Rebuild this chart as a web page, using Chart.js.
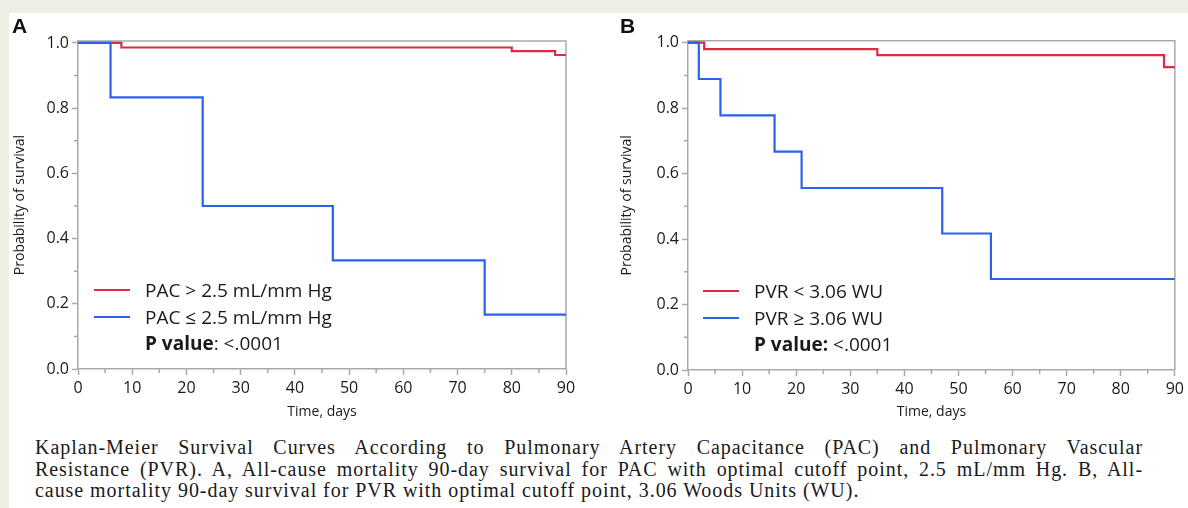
<!DOCTYPE html>
<html>
<head>
<meta charset="utf-8">
<script src="https://cdn.jsdelivr.net/npm/chart.js@4.4.1/dist/chart.umd.min.js"></script>
<style>
  body { margin: 0; background: #eeeee5; }
  #page { position: relative; width: 1188px; height: 508px; overflow: hidden; }
  #sheet { position: absolute; left: 9px; top: 13px; width: 1179px; height: 495px; background: #fff; }
  canvas { position: absolute; top: 0; }
  .letter { position: absolute; font: bold 21px "Liberation Sans", Arial, sans-serif; color: #111; }
  .legend { position: absolute; font: 19px "Open Sans", sans-serif; color: #1a1a1a; line-height: 26px; white-space: nowrap; }
  .legend .row { position: relative; height: 26.6px; }
  .legend .swatch { position: absolute; top: 12px; width: 36px; height: 2px; }
  .caption { position: absolute; left: 35px; width: 1108px; font: 20px "Liberation Serif", "Times New Roman", serif; letter-spacing: 0.95px; color: #1a1a1a; line-height: 21.5px; }
  .caption div { white-space: nowrap; }
  .caption .j { text-align: justify; text-align-last: justify; white-space: normal; }
</style>
</head>
<body>
<div id="page">
  <div id="sheet"></div>
  <canvas id="chartA" width="600" height="430" style="left:0;width:600px;height:430px"></canvas>
  <canvas id="chartB" width="588" height="430" style="left:600px;width:588px;height:430px"></canvas>
  <div class="letter" style="left:12px;top:14px">A</div>
  <div class="letter" style="left:620px;top:14px">B</div>

  <div class="legend" style="left:94px;top:277px">
    <div class="row"><span class="swatch" style="left:0;background:#dc2a40"></span><span style="position:absolute;left:51px">PAC &gt; 2.5 mL/mm Hg</span></div>
    <div class="row"><span class="swatch" style="left:0;background:#2a62ec"></span><span style="position:absolute;left:51px">PAC ≤ 2.5 mL/mm Hg</span></div>
    <div class="row"><span style="position:absolute;left:51px"><b>P value</b>: &lt;.0001</span></div>
  </div>
  <div class="legend" style="left:703px;top:278px">
    <div class="row"><span class="swatch" style="left:0;background:#dc2a40"></span><span style="position:absolute;left:51px">PVR &lt; 3.06 WU</span></div>
    <div class="row"><span class="swatch" style="left:0;background:#2a62ec"></span><span style="position:absolute;left:51px">PVR ≥ 3.06 WU</span></div>
    <div class="row"><span style="position:absolute;left:51px"><b>P value:</b> &lt;.0001</span></div>
  </div>

  <div class="caption" style="top:437px">
    <div class="j">Kaplan-Meier Survival Curves According to Pulmonary Artery Capacitance (PAC) and Pulmonary Vascular</div>
    <div class="j">Resistance (PVR). A, All-cause mortality 90-day survival for PAC with optimal cutoff point, 2.5 mL/mm Hg. B, All-</div>
    <div>cause mortality 90-day survival for PVR with optimal cutoff point, 3.06 Woods Units (WU).</div>
  </div>
</div>

<script>
// Panel A: PAC groups (day of event, survival after it)
const daysPacHigh = [0, 8, 80, 88, 90];
const survPacHigh = [1, 0.986, 0.975, 0.963, 0.963];
const daysPacLow = [0, 6, 23, 47, 75, 90];
const survPacLow = [1, 0.833, 0.5, 0.333, 0.167, 0.167];

// Panel B: PVR groups
const daysPvrLow = [0, 3, 35, 88, 90];
const survPvrLow = [1, 0.98, 0.962, 0.925, 0.925];
const daysPvrHigh = [0, 2, 6, 16, 21, 47, 56, 90];
const survPvrHigh = [1, 0.889, 0.778, 0.667, 0.556, 0.417, 0.278, 0.278];

const minorDays = [5, 15, 25, 35, 45, 55, 65, 75, 85];
const minorProb = [0.1, 0.3, 0.5, 0.7, 0.9];

const RED = '#dc2a40';
const BLUE = '#2a62ec';
const AXIS = '#a9a9a9';
const TEXT = '#1a1a1a';

function toPoints(xs, ys) {
    return xs.map((x, i) => ({ x: x, y: ys[i] }));
}

// frame on top/right plus the small minor ticks
const framePlugin = {
    id: 'frame',
    beforeDatasetsDraw(chart) {
        const ctx = chart.ctx;
        const a = chart.chartArea;
        const xs = chart.scales.x, ys = chart.scales.y;
        ctx.save();
        ctx.strokeStyle = AXIS;
        ctx.lineWidth = 1.5;
        ctx.beginPath();
        ctx.moveTo(a.left, a.top);
        ctx.lineTo(a.right, a.top);
        ctx.lineTo(a.right, a.bottom);
        minorDays.forEach(d => {
            const px = xs.getPixelForValue(d);
            ctx.moveTo(px, a.bottom);
            ctx.lineTo(px, a.bottom + 4);
        });
        minorProb.forEach(p => {
            const py = ys.getPixelForValue(p);
            ctx.moveTo(a.left - 4, py);
            ctx.lineTo(a.left, py);
        });
        ctx.stroke();
        ctx.restore();
    }
};

function makeChart(id, redPts, bluePts, cfg) {
    const ctx = document.getElementById(id).getContext('2d');
    return new Chart(ctx, {
        type: 'line',
        data: {
            datasets: [{
                data: bluePts,
                borderColor: BLUE,
                borderWidth: 2.2,
                stepped: 'before',
                pointRadius: 0,
                fill: false,
                order: 0
            }, {
                data: redPts,
                borderColor: RED,
                borderWidth: 2.2,
                stepped: 'before',
                pointRadius: 0,
                fill: false,
                order: 1
            }]
        },
        options: {
            responsive: false,
            animation: false,
            layout: { padding: { top: cfg.top, right: cfg.right, left: 0, bottom: 0 } },
            plugins: { legend: { display: false }, tooltip: { enabled: false } },
            scales: {
                x: {
                    type: 'linear',
                    min: 0,
                    max: 90,
                    ticks: { stepSize: 10, color: TEXT, font: { family: 'Open Sans', size: 16 }, padding: 4, maxRotation: 0 },
                    grid: { drawOnChartArea: false, tickLength: 6, tickColor: AXIS, tickWidth: 1.5 },
                    border: { color: AXIS, width: 1.5 },
                    title: { display: true, text: 'Time, days', color: TEXT, font: { family: 'Open Sans', size: 14 }, padding: { top: 0, bottom: 10 } },
                    afterFit(s) { s.height = cfg.xHeight; }
                },
                y: {
                    type: 'linear',
                    min: 0,
                    max: 1.006,
                    ticks: { stepSize: 0.2, includeBounds: false, color: TEXT, font: { family: 'Open Sans', size: 16 }, padding: 3,
                        callback: v => v.toFixed(1) },
                    grid: { drawOnChartArea: false, tickLength: 6, tickColor: AXIS, tickWidth: 1.5 },
                    border: { color: AXIS, width: 1.5 },
                    title: { display: true, text: 'Probability of survival', color: TEXT, font: { family: 'Open Sans', size: 14 }, padding: { top: cfg.titlePad, bottom: 0 } },
                    afterFit(s) { s.width = cfg.yWidth; }
                }
            }
        },
        plugins: [framePlugin]
    });
}

const chartA = makeChart('chartA',
    toPoints(daysPacHigh, survPacHigh),
    toPoints(daysPacLow, survPacLow),
    { top: 41, right: 34, xHeight: 61, yWidth: 78, titlePad: 12 });

const chartB = makeChart('chartB',
    toPoints(daysPvrLow, survPvrLow),
    toPoints(daysPvrHigh, survPvrHigh),
    { top: 40.7, right: 10, xHeight: 60, yWidth: 88, titlePad: 19 });
</script>
</body>
</html>
